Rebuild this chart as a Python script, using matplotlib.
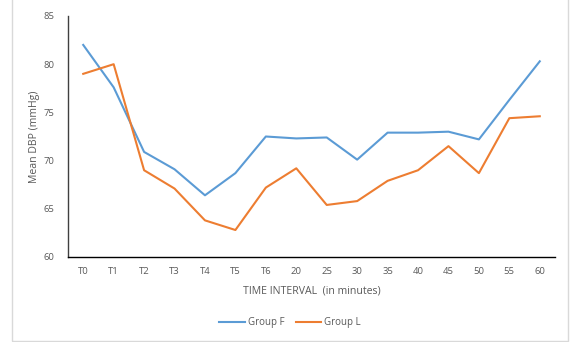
import matplotlib
matplotlib.use("Agg")
import matplotlib.pyplot as plt
from matplotlib.patches import Rectangle

# Dados
intervals = ["T0", "T1", "T2", "T3", "T4", "T5", "T6", "20", "25", "30",
             "35", "40", "45", "50", "55", "60"]
group_f = [82.0, 77.6, 70.9, 69.1, 66.4, 68.7, 72.5, 72.3, 72.4, 70.1,
           72.9, 72.9, 73.0, 72.2, 76.3, 80.3]
group_l = [79.0, 80.0, 69.0, 67.1, 63.8, 62.8, 67.2, 69.2, 65.4, 65.8,
           67.9, 69.0, 71.5, 68.7, 74.4, 74.6]
y_ticks = [60, 65, 70, 75, 80, 85]

TEXT = "#595959"
plt.rcParams["font.family"] = ["Open Sans", "DejaVu Sans"]

fig = plt.figure(figsize=(5.7, 3.42), dpi=100)
W, H = 570, 342
ax = fig.add_axes([68 / W, 1 - 257 / H, (555 - 68) / W, (257 - 16) / H])

x = list(range(len(intervals)))
ax.plot(x, group_f, color="#5B9BD5", linewidth=1.5, label="Group F")
ax.plot(x, group_l, color="#ED7D31", linewidth=1.5, label="Group L")

ax.set_xlim(-0.5, len(intervals) - 0.5)
ax.set_ylim(60, 85)
ax.set_xticks(x)
ax.set_xticklabels(intervals)
ax.set_yticks(y_ticks)
ax.tick_params(length=0, labelsize=6.8, colors=TEXT, pad=7)
ax.tick_params(axis="y", pad=10)

for side in ["top", "right"]:
    ax.spines[side].set_visible(False)
ax.spines["left"].set_color("#404040")
ax.spines["bottom"].set_color("#000000")
ax.spines["left"].set_linewidth(1.0)
ax.spines["bottom"].set_linewidth(1.0)

ax.set_xlabel("TIME INTERVAL  (in minutes)", fontsize=7.6, color=TEXT, labelpad=7)
ax.set_ylabel("Mean DBP (mmHg)", fontsize=7.6, color=TEXT, labelpad=2)

leg = fig.legend(loc="center", bbox_to_anchor=(290 / W, 1 - 323 / H), ncol=2,
                 frameon=False, fontsize=7, handlelength=2.6, handletextpad=0.3,
                 columnspacing=1.2)
for t in leg.get_texts():
    t.set_color(TEXT)

# Moldura externa do gráfico (topo fora da imagem)
fig.patches.append(Rectangle((12 / W, 1 / H), (568 - 12) / W, (360 - 1) / H,
                             transform=fig.transFigure, fill=False,
                             edgecolor="#d9d9d9", linewidth=1.0))

fig.savefig("out.png", dpi=100)
